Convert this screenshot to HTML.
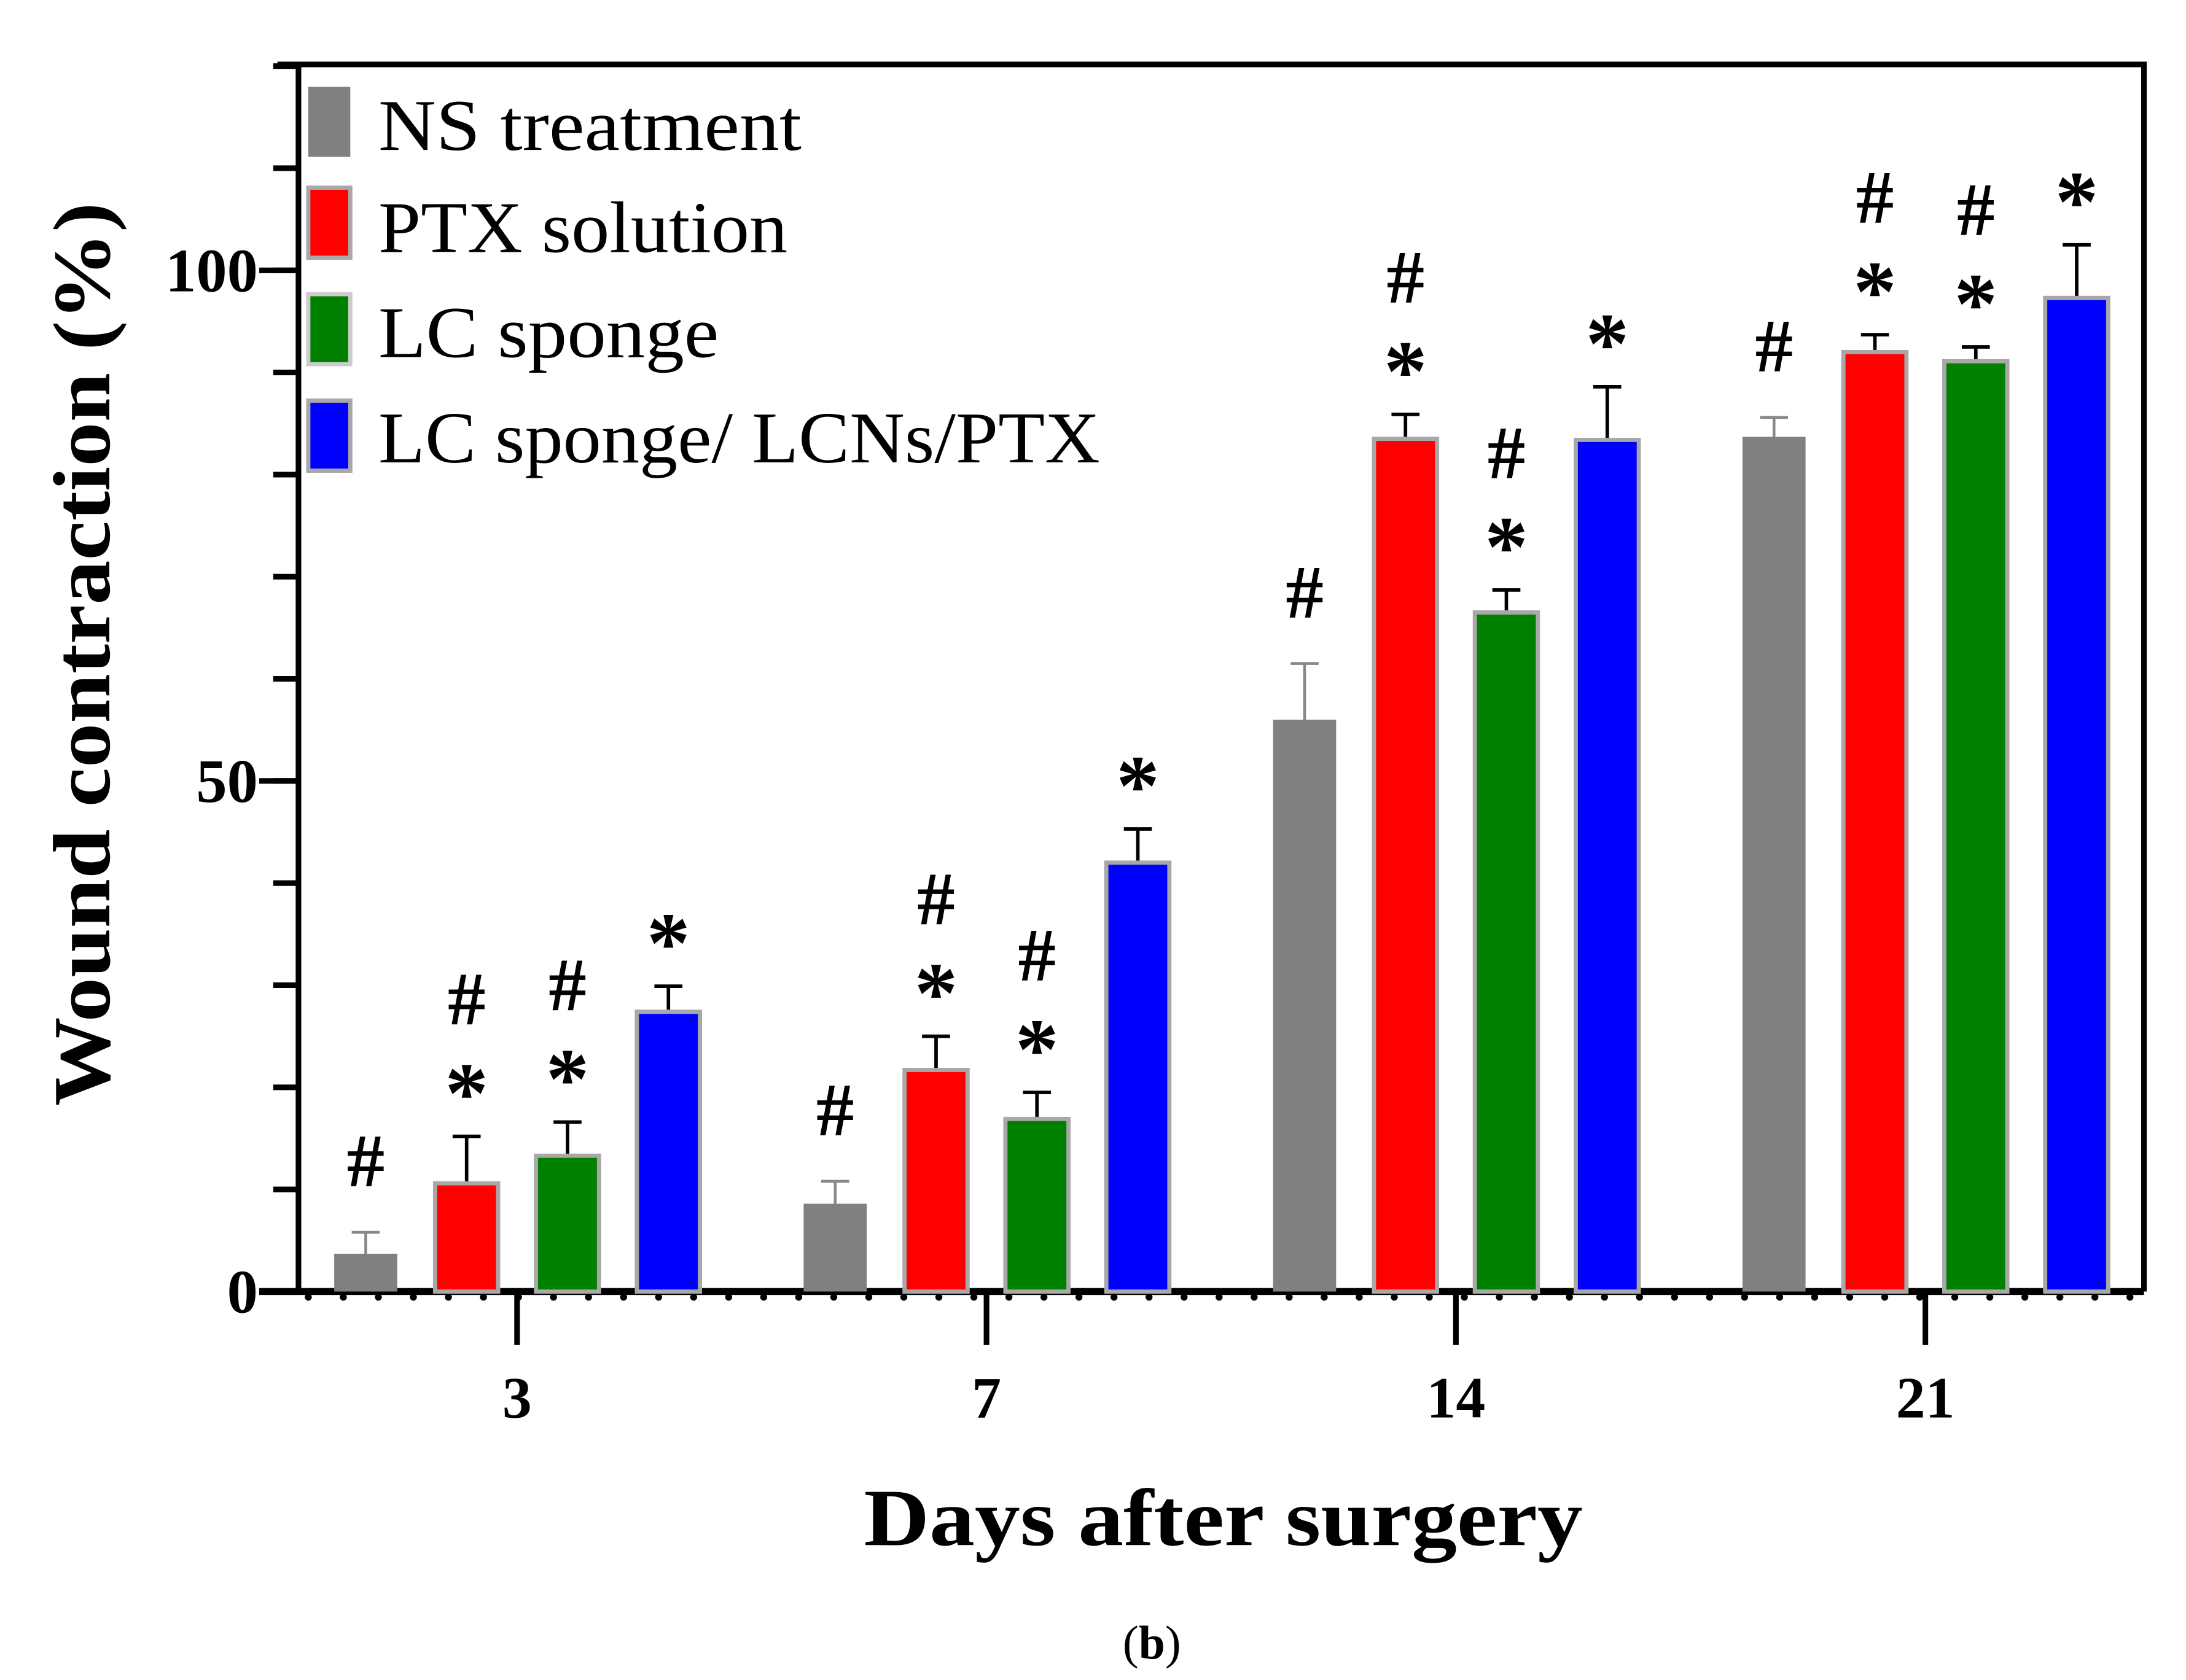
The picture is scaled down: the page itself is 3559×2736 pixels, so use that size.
<!DOCTYPE html>
<html><head><meta charset="utf-8"><style>
html,body{margin:0;padding:0;background:#fff;}
svg{display:block;}
text{font-family:"Liberation Serif",serif;fill:#000;}
</style></head><body>
<svg id="chart" width="3559" height="2736" viewBox="0 0 1560 1199.3" preserveAspectRatio="none" xmlns="http://www.w3.org/2000/svg">
<g id="axes"></g>
<g id="bars"></g>
<g id="legend"></g>
<text transform="translate(78,467) rotate(-90)" text-anchor="middle" font-size="58" font-weight="bold" textLength="645" lengthAdjust="spacingAndGlyphs">Wound contraction (%)</text>
<text x="873" y="1103" text-anchor="middle" font-size="58" font-weight="bold" textLength="513" lengthAdjust="spacingAndGlyphs">Days after surgery</text>
<text x="822" y="1184" text-anchor="middle" font-size="34">(<tspan font-weight="bold">b</tspan>)</text>
</svg>
<script>
const categories = ["3", "7", "14", "21"];
const seriesNames = ["NS treatment", "PTX solution", "LC sponge", "LC sponge/ LCNs/PTX"];
const nsValues = [3.7, 8.6, 56, 83.7];
const ptxValues = [10.6, 21.7, 83.5, 92];
const lcValues = [13.3, 16.9, 66.5, 91.1];
const lcnValues = [27.4, 42, 83.4, 97.3];
const nsErr = [2.1, 2.2, 5.5, 1.9];
const ptxErr = [4.6, 3.3, 2.4, 1.7];
const lcErr = [3.3, 2.6, 2.2, 1.4];
const lcnErr = [2.5, 3.3, 5.2, 5.2];
const nsMarks = [["#"], ["#"], ["#"], ["#"]];
const ptxMarks = [["*", "#"], ["*", "#"], ["*", "#"], ["*", "#"]];
const lcMarks = [["*", "#"], ["*", "#"], ["*", "#"], ["*", "#"]];
const lcnMarks = [["*"], ["*"], ["*"], ["*"]];
const yTickLabels = [0, 50, 100];

const NS = "http://www.w3.org/2000/svg";
const colors = ["#808080", "#ff0000", "#008000", "#0000ff"];
const values = [nsValues, ptxValues, lcValues, lcnValues];
const errs = [nsErr, ptxErr, lcErr, lcnErr];
const marks = [nsMarks, ptxMarks, lcMarks, lcnMarks];
const X0 = 213, X1 = 1530, Y0 = 922, YTOP = 46;
const yScale = v => Y0 - v * 7.29;
const xCenter = i => 369 + i * 335;
const xBar = (i, s) => xCenter(i) + (s - 1.5) * 72;
function mk(tag, attrs, parent) {
  const e = document.createElementNS(NS, tag);
  for (const k in attrs) e.setAttribute(k, attrs[k]);
  parent.appendChild(e);
  return e;
}
const axes = document.getElementById('axes');
const bars = document.getElementById('bars');
const legend = document.getElementById('legend');

let f = mk('path', {d:`M198 ${YTOP} H${X1} V${Y0} M${X0} ${YTOP} V${Y0}`, stroke:'#000', 'stroke-width':4, fill:'none'}, axes);


let xa = mk('line', {x1:185, x2:X1, y1:Y0, y2:Y0, stroke:'#000', 'stroke-width':5}, axes);


for (let v = 10; v <= 120; v += 10) {
  const t = mk('line', {x1:195, x2:X0, y1:yScale(v), y2:yScale(v), stroke:'#000', 'stroke-width':4}, axes);
  
  
}
yTickLabels.forEach(v => {
  const t = mk('line', {x1:185, x2:X0, y1:yScale(v), y2:yScale(v), stroke:'#000', 'stroke-width':4}, axes);
  
  
  const l = mk('text', {x:184, y:yScale(v) + 15, 'text-anchor':'end', 'font-size':44, 'font-weight':'bold'}, axes);
  l.textContent = v;
  
  
});
for (let x = 220; x < X1; x += 25) {
  const t = mk('circle', {cx:x, cy:Y0 + 4, r:2.5, fill:'#000'}, axes);
  
  
}
categories.forEach((c, i) => {
  const t = mk('line', {x1:xCenter(i), x2:xCenter(i), y1:Y0, y2:960, stroke:'#000', 'stroke-width':4}, axes);
  
  
  const l = mk('text', {x:xCenter(i), y:1012, 'text-anchor':'middle', 'font-size':42, 'font-weight':'bold'}, axes);
  l.textContent = c;
  
  
});
values.forEach((arr, s) => {
  arr.forEach((v, i) => {
    const cx = xBar(i, s), w = 45, top = yScale(v);
    const et = yScale(v + errs[s][i]);
    const eb = mk('path', {d:`M${cx} ${top} V${et} M${cx - 10} ${et} H${cx + 10}`, stroke: s === 0 ? '#888' : '#000', 'stroke-width': s === 0 ? 2 : 2.5, fill:'none'}, bars);
    
    
    const r = mk('rect', {x:cx - w / 2, y:top, width:w, height:Y0 - top, fill:colors[s], stroke: s === 0 ? 'none' : '#a8a8a8', 'stroke-width':3}, bars);
    
    
    let y = et - (marks[s][i][0] === '*' ? 36 : 37);
    marks[s][i].forEach(m => {
      const t = mk('text', {x:cx, y:m === '*' ? y + 26 : y + 4, 'text-anchor':'middle', 'font-size': m === '*' ? 62 : 54, 'font-weight':'bold', 'font-family':'"Liberation Sans",sans-serif'}, bars);
      t.textContent = m;
      
      
      y -= 48;
    });
  });
});
const legY = [62, 134, 210, 286];
const legTextY = [107, 180, 255, 330];
const legLen = [302, 292, 243, 515];
seriesNames.forEach((n, s) => {
  const r = mk('rect', {x:220, y:legY[s], width:30, height:50, fill:colors[s], stroke: s === 0 ? 'none' : (s === 2 ? '#ccc' : '#a8a8a8'), 'stroke-width':3}, legend);
  
  
  const t = mk('text', {x:270, y:legTextY[s], 'font-size':52, textLength:legLen[s], lengthAdjust:'spacingAndGlyphs'}, legend);
  t.textContent = n;
  
  
});
</script>
</body></html>
